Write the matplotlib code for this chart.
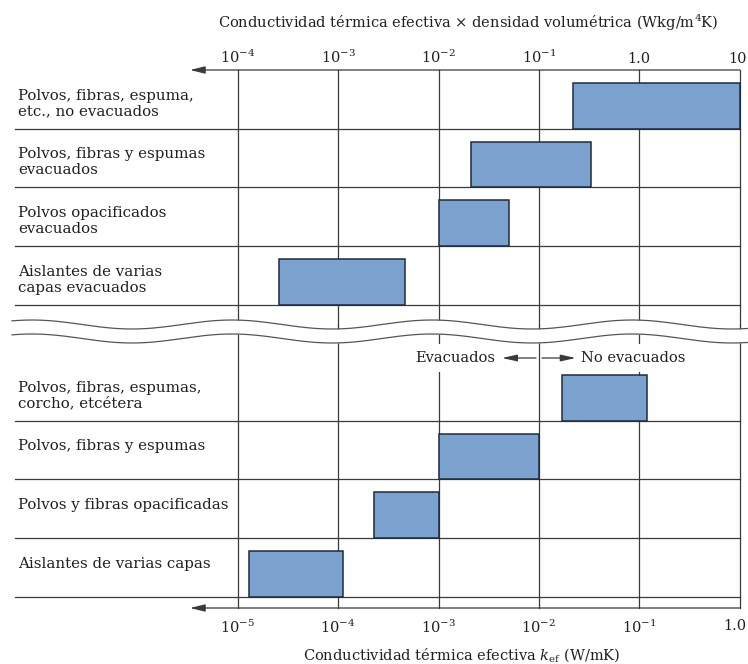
import numpy as np
import matplotlib
matplotlib.use("Agg")
import matplotlib.pyplot as plt
from matplotlib.ticker import NullLocator
from matplotlib.transforms import ScaledTranslation

plt.rcParams["font.family"] = ["DejaVu Serif"]
plt.rcParams["mathtext.fontset"] = "dejavuserif"

# ---------------- data ----------------
top_labels = [
    "Polvos, fibras, espuma,\netc., no evacuados",
    "Polvos, fibras y espumas\nevacuados",
    "Polvos opacificados\nevacuados",
    "Aislantes de varias\ncapas evacuados",
]
top_lo = [0.22, 0.021, 0.01, 2.6e-4]
top_hi = [10.0, 0.33, 0.050, 4.6e-3]
top_ticks = [1e-4, 1e-3, 1e-2, 1e-1, 1.0, 10.0]
top_ticklabels = [r"$10^{-4}$", r"$10^{-3}$", r"$10^{-2}$", r"$10^{-1}$", "1.0", "10"]

bot_labels = [
    "Polvos, fibras, espumas,\ncorcho, etcétera",
    "Polvos, fibras y espumas",
    "Polvos y fibras opacificadas",
    "Aislantes de varias capas",
]
bot_lo = [0.017, 1e-3, 2.3e-4, 1.3e-5]
bot_hi = [0.12, 1e-2, 1e-3, 1.13e-4]
bot_ticks = [1e-5, 1e-4, 1e-3, 1e-2, 1e-1, 1.0]
bot_ticklabels = [r"$10^{-5}$", r"$10^{-4}$", r"$10^{-3}$", r"$10^{-2}$", r"$10^{-1}$", "1.0"]

top_title = "Conductividad térmica efectiva × densidad volumétrica (Wkg/m$^4$K)"
bot_title = r"Conductividad térmica efectiva $k_{\mathrm{ef}}$ (W/mK)"

# ---------------- layout ----------------
W, H = 748, 664
X0, X1 = 237.7, 739.7
TOP_AXIS_Y, BREAK_Y, BOT_AXIS_Y = 70.0, 324.5, 608.0
BOT_ROW0_TOP = 362.0
ROW_H = 58.7
LEFT_PX, LABEL_PX, ARROW_PX = 15.0, 18.0, 190.0
BAR_H = 0.78
FS = 10.5
FS_LAB = 10.8
LINE = "#3a3a3a"
TXT = "#231f20"
FILL = "#7BA1CF"
EDGE = "#1f2b3c"

def rect(x0, y0, x1, y1):
    return [x0 / W, 1 - y1 / H, (x1 - x0) / W, (y1 - y0) / H]

def fx(px):
    return (px - X0) / (X1 - X0)

fig = plt.figure(figsize=(W / 100, H / 100), dpi=100)
ax_t = fig.add_axes(rect(X0, TOP_AXIS_Y, X1, BREAK_Y))
ax_b = fig.add_axes(rect(X0, BREAK_Y, X1, BOT_AXIS_Y))

ax_t.set_ylim((BREAK_Y - TOP_AXIS_Y) / ROW_H, 0)
ax_b.set_ylim((BOT_AXIS_Y - BOT_ROW0_TOP) / ROW_H, (BREAK_Y - BOT_ROW0_TOP) / ROW_H)

def section(ax, labels, lo, hi, ticks, ticklabels, top):
    ax.set_xscale("log")
    ax.set_xlim(ticks[0], ticks[-1])
    ax.patch.set_visible(False)
    for s in ax.spines.values():
        s.set_visible(False)
    ax.set_yticks([])
    ax.set_xticks(ticks, ticklabels)
    ax.xaxis.set_minor_locator(NullLocator())
    if top:
        ax.xaxis.tick_top()
    ax.tick_params(axis="x", which="both", length=0, labelsize=FS,
                   labelcolor=TXT, pad=3 if top else 8)
    for t in ticks:
        ax.axvline(t, color=LINE, lw=0.9, clip_on=False, zorder=1)
    n = len(labels)
    ycen = [i + 1 - BAR_H / 2 for i in range(n)]
    ax.barh(ycen, np.array(hi) - np.array(lo), left=lo, height=BAR_H,
            color=FILL, edgecolor=EDGE, linewidth=1.1, zorder=3, clip_on=False)
    for i, lab in enumerate(labels):
        ax.plot([fx(LEFT_PX), 1], [i + 1, i + 1], color=LINE, lw=0.9,
                transform=ax.get_yaxis_transform(), clip_on=False, zorder=2)
        ax.text(fx(LABEL_PX), i + 1 - 40 / ROW_H, lab, ha="left", va="top",
                fontsize=FS_LAB, color=TXT, linespacing=1.18,
                transform=ax.get_yaxis_transform())
    yax = 1 if top else 0
    ax.annotate("", xy=(fx(ARROW_PX), yax), xytext=(1.0, yax),
                xycoords="axes fraction", textcoords="axes fraction",
                annotation_clip=False,
                arrowprops=dict(arrowstyle="-|>,head_length=0.9,head_width=0.22",
                                color=LINE, lw=0.9, shrinkA=0, shrinkB=0))

section(ax_t, top_labels, top_lo, top_hi, top_ticks, top_ticklabels, True)
section(ax_b, bot_labels, bot_lo, bot_hi, bot_ticks, bot_ticklabels, False)

# keep the right-most tick labels inside the picture (as in the reference)
fig.canvas.draw()
for ax in (ax_t, ax_b):
    lbls = [l for l in (ax.get_xticklabels(which="major")) if l.get_text()]
    last = lbls[-1]
    last.set_horizontalalignment("right")
    last.set_transform(last.get_transform() + ScaledTranslation(7 / 100, 0, fig.dpi_scale_trans))

# titles
ax_t.xaxis.set_label_position("top")
ax_t.set_xlabel(top_title, fontsize=FS, color=TXT, va="center")
ax_t.xaxis.set_label_coords(fx(468), (BREAK_Y - 23) / (BREAK_Y - TOP_AXIS_Y))
ax_b.set_xlabel(bot_title, fontsize=FS, color=TXT, va="center")
ax_b.xaxis.set_label_coords(fx(462), -(655 - BOT_AXIS_Y) / (BOT_AXIS_Y - BREAK_Y))

# evacuated / non-evacuated annotation
ytxt = (358 - BOT_ROW0_TOP) / ROW_H
tr = ax_b.get_yaxis_transform()
ax_b.text(fx(495.7), ytxt, "Evacuados", ha="right", va="center", fontsize=FS,
          color=TXT, transform=tr, zorder=4,
          bbox=dict(facecolor="white", edgecolor="none", pad=5))
ax_b.text(fx(581), ytxt, "No evacuados", ha="left", va="center", fontsize=FS,
          color=TXT, transform=tr, zorder=4,
          bbox=dict(facecolor="white", edgecolor="none", pad=5))
arrow = dict(arrowstyle="-|>,head_length=0.9,head_width=0.2", color=LINE, lw=0.9,
             shrinkA=0, shrinkB=0)
ax_b.annotate("", xy=(fx(502), ytxt), xytext=(fx(536), ytxt), xycoords=tr,
              textcoords=tr, arrowprops=arrow, zorder=5)
ax_b.annotate("", xy=(fx(575.7), ytxt), xytext=(fx(542), ytxt), xycoords=tr,
              textcoords=tr, arrowprops=arrow, zorder=5)

# axis break (wavy band)
deco = fig.add_axes([0, 0, 1, 1], zorder=10)
deco.set_xlim(0, W)
deco.set_ylim(H, 0)
deco.axis("off")
deco.patch.set_visible(False)
xs = np.linspace(12, W, 400)
yu = 324.5 - 4.5 * np.cos(2 * np.pi * (xs - 232) / 200)
yl = yu + 14
deco.fill_between(xs, yu, yl, color="white", lw=0)
deco.plot(xs, yu, color="#555555", lw=0.9)
deco.plot(xs, yl, color="#555555", lw=0.9)

fig.savefig("out.png", dpi=100)
